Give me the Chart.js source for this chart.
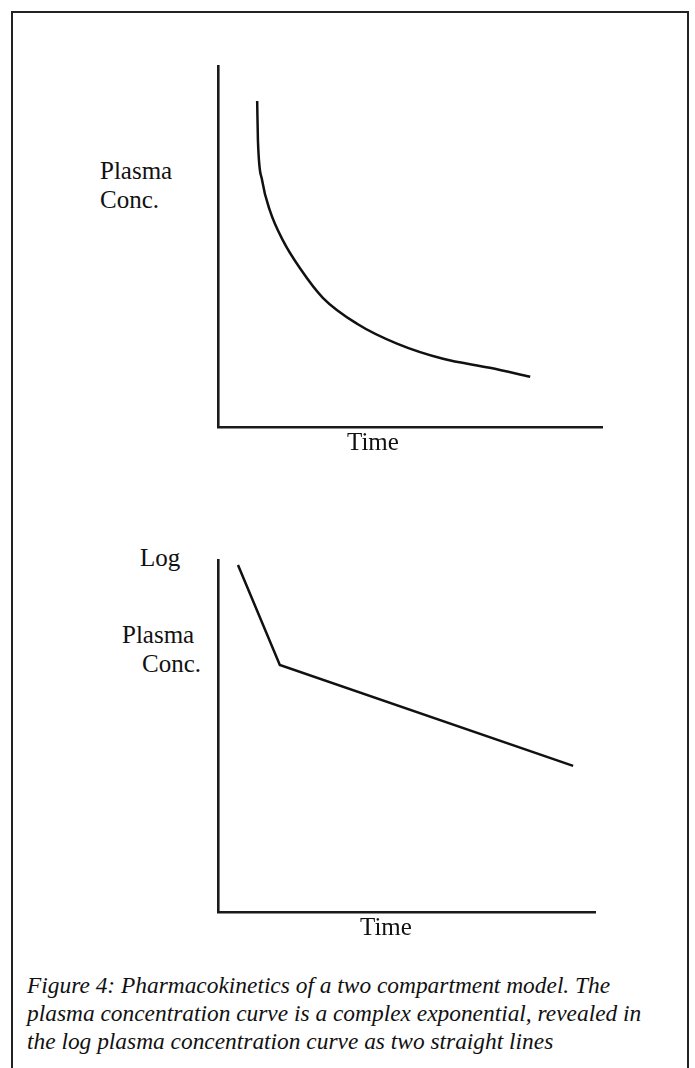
<!DOCTYPE html>
<html>
<head>
<meta charset="utf-8">
<title>Two compartment model</title>
<script src="https://cdn.jsdelivr.net/npm/chart.js@4.4.1/dist/chart.umd.min.js"></script>
<style>
  body { margin: 0; width: 695px; height: 1068px; background: #fff; position: relative; overflow: hidden; font-family: 'Liberation Serif', 'Times New Roman', serif; color: #111; }
  #frame { position: absolute; left: 11px; top: 11px; width: 674px; height: 1080px; border: 2.5px solid #222; border-bottom: none; }
  .wrap { position: absolute; }
  .lab { position: absolute; font-size: 25px; line-height: 29px; white-space: nowrap; }
  #caption { position: absolute; left: 27px; top: 971px; font-style: italic; font-size: 23.4px; line-height: 28px; white-space: nowrap; }
</style>
</head>
<body>
<div id="frame"></div>

<div class="wrap" id="topWrap" style="left:214px; top:62px; width:392px; height:369px;"><canvas id="topChart"></canvas></div>
<div class="lab" style="left:100px; top:156px;">Plasma<br>Conc.</div>
<div class="lab" style="left:347px; top:427px;">Time</div>

<div class="wrap" id="logWrap" style="left:214px; top:556px; width:385px; height:360px;"><canvas id="logChart"></canvas></div>
<div class="lab" style="left:140px; top:543px;">Log</div>
<div class="lab" style="left:122px; top:620px;">Plasma</div>
<div class="lab" style="left:142px; top:649px;">Conc.</div>
<div class="lab" style="left:360px; top:912px;">Time</div>

<div id="caption">Figure 4: Pharmacokinetics of a two compartment model. The<br>plasma concentration curve is a complex exponential, revealed in<br>the log plasma concentration curve as two straight lines</div>

<script>
'use strict';

// plasma concentration vs time
let timeTop = [1.02, 1.04, 1.15, 1.35, 1.69, 2.14, 2.73, 3.62, 4.66, 5.86, 7.08, 8.13];
let concTop = [9.03, 7.94, 6.83, 6.00, 5.17, 4.39, 3.58, 2.86, 2.31, 1.89, 1.64, 1.39];

// log plasma concentration: two straight lines
let timeLog = [0.53, 1.64, 9.42];
let logConc = [9.86, 7.02, 4.15];

function toPoints(xs, ys) {
  let pts = [];
  for (let i = 0; i < xs.length; i++) {
    pts.push({ x: xs[i], y: ys[i] });
  }
  return pts;
}

function axis() {
  return {
    type: 'linear',
    min: 0,
    max: 10,
    grid: { display: false, drawTicks: false },
    ticks: { display: false },
    border: { display: true, color: '#1a1a1a', width: 2.6 }
  };
}

function makeChart(id, xs, ys, smooth) {
  let xAxis = axis();
  let yAxis = axis();
  xAxis.afterFit = function (s) { s.height = 0; };
  yAxis.afterFit = function (s) { s.width = 0; };
  let config = {
    type: 'scatter',
    data: {
      datasets: [{
        data: toPoints(xs, ys),
        showLine: true,
        borderColor: '#111',
        borderWidth: 2.5,
        pointRadius: 0,
        cubicInterpolationMode: smooth ? 'monotone' : 'default',
        tension: 0,
        fill: false
      }]
    },
    options: {
      responsive: true,
      maintainAspectRatio: false,
      animation: false,
      layout: { padding: 4 },
      plugins: { legend: { display: false }, tooltip: { enabled: false } },
      scales: { x: xAxis, y: yAxis }
    }
  };
  // eslint-disable-next-line no-undef
  return new Chart(document.getElementById(id).getContext('2d'), config);
}

makeChart('topChart', timeTop, concTop, true);
makeChart('logChart', timeLog, logConc, false);
</script>
</body>
</html>
